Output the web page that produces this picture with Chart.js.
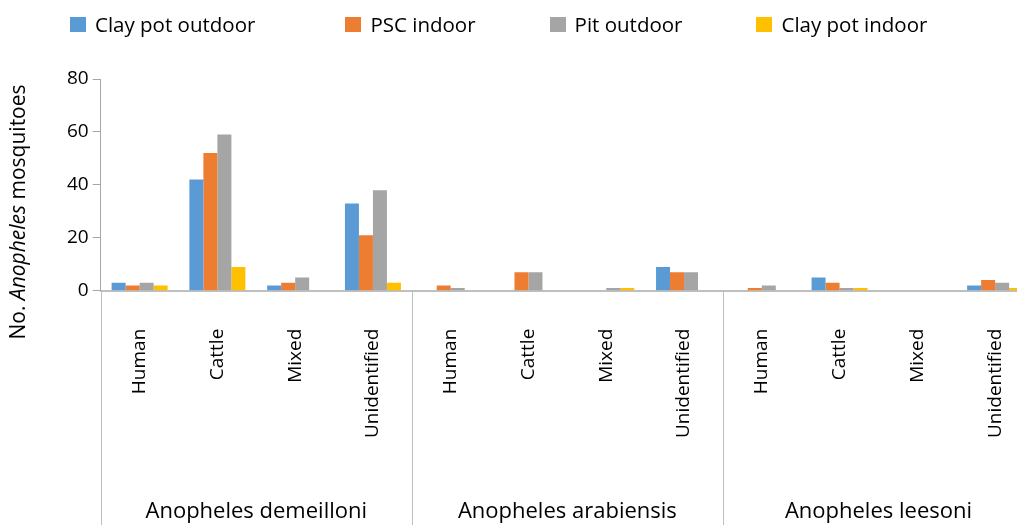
<!DOCTYPE html>
<html lang="en">
<head>
<meta charset="UTF-8">
<title>Blood meal sources</title>
<script src="https://cdn.jsdelivr.net/npm/chart.js"></script>
<style>
    html, body { margin: 0; padding: 0; background: #fff; overflow: hidden; }
    #box { position: relative; width: 1056px; height: 525px; }
    #legenda {
        position: absolute; left: 70px; top: 10px; z-index: 2;
        display: flex; gap: 74px; align-items: center;
        font-family: 'Open Sans', 'Noto Sans', sans-serif; font-size: 20.5px; color: #000;
    }
    #legenda span.item { display: flex; align-items: center; white-space: nowrap; }
    #legenda span.item:first-child { margin-right: 16px; }
    #legenda span.cor { display: inline-block; width: 16px; height: 15px; margin-right: 9px; }
</style>
</head>
<body>
<div id="box">
    <div id="legenda"></div>
    <canvas id="grafico"></canvas>
</div>

<script>
// categorias e grupos
const hosts = ['Human', 'Cattle', 'Mixed', 'Unidentified'];
const species = ['Anopheles demeilloni', 'Anopheles arabiensis', 'Anopheles leesoni'];
const labels = [...hosts, ...hosts, ...hosts];

// valores (demeilloni, arabiensis, leesoni)
const clayPotOutdoor = [3, 42, 2, 33, 0, 0, 0, 9, 0, 5, 0, 2];
const pscIndoor      = [2, 52, 3, 21, 2, 7, 0, 7, 1, 3, 0, 4];
const pitOutdoor     = [3, 59, 5, 38, 1, 7, 1, 7, 2, 1, 0, 3];
const clayPotIndoor  = [2, 9, 0, 3, 0, 0, 1, 0, 0, 1, 0, 1];

const yTicks = [0, 20, 40, 60, 80];
const fonte = "'Open Sans', 'Noto Sans', sans-serif";
const cinza = '#A6A6A6';

// linhas de separacao dos grupos, nomes das especies e titulo do eixo y
const grupos = {
    id: 'grupos',
    afterDraw(chart) {
        const ctx = chart.ctx;
        const x = chart.scales.x;
        const topo = chart.chartArea.bottom;
        ctx.save();
        ctx.strokeStyle = '#BFBFBF';
        ctx.lineWidth = 1;
        for (let g = 0; g <= species.length; g++) {
            const px = Math.round(x.getPixelForValue(g * hosts.length - 0.5)) + 0.5;
            ctx.beginPath();
            ctx.moveTo(px, topo);
            ctx.lineTo(px, chart.height);
            ctx.stroke();
        }
        ctx.fillStyle = '#000';
        ctx.font = '22px ' + fonte;
        ctx.textAlign = 'center';
        ctx.textBaseline = 'middle';
        species.forEach((nome, g) => {
            const a = x.getPixelForValue(g * hosts.length - 0.5);
            const b = x.getPixelForValue((g + 1) * hosts.length - 0.5);
            ctx.fillText(nome, (a + b) / 2, 512);
        });

        // titulo do eixo y com "Anopheles" em italico
        const partes = [['No. ', 'normal'], ['Anopheles', 'italic'], [' mosquitoes', 'normal']];
        let total = 0;
        partes.forEach(p => {
            ctx.font = p[1] + ' 21px ' + fonte;
            total += ctx.measureText(p[0]).width;
        });
        ctx.translate(19, 212);
        ctx.rotate(-Math.PI / 2);
        ctx.textAlign = 'left';
        let pos = -total / 2;
        partes.forEach(p => {
            ctx.font = p[1] + ' 21px ' + fonte;
            ctx.fillText(p[0], pos, 0);
            pos += ctx.measureText(p[0]).width;
        });
        ctx.restore();
    }
};

const dados = {
    labels: labels,
    datasets: [
        { label: 'Clay pot outdoor', data: clayPotOutdoor, backgroundColor: '#5B9BD5' },
        { label: 'PSC indoor', data: pscIndoor, backgroundColor: '#ED7D31' },
        { label: 'Pit outdoor', data: pitOutdoor, backgroundColor: '#A5A5A5' },
        { label: 'Clay pot indoor', data: clayPotIndoor, backgroundColor: '#FFC000' }
    ]
};

const config = {
    type: 'bar',
    data: dados,
    plugins: [grupos],
    options: {
        responsive: true,
        maintainAspectRatio: false,
        animation: false,
        datasets: { bar: { categoryPercentage: 0.72, barPercentage: 1 } },
        layout: { padding: { left: 63, right: 2, top: 79, bottom: 49 } },
        plugins: {
            legend: { display: false },
            tooltip: { enabled: false }
        },
        scales: {
            x: {
                grid: { display: false, drawTicks: false },
                border: { display: true, color: '#BFBFBF', width: 2 },
                ticks: {
                    autoSkip: false,
                    minRotation: 90,
                    maxRotation: 90,
                    padding: 38,
                    color: '#000',
                    font: { family: fonte, size: 19 }
                }
            },
            y: {
                min: 0,
                max: 80,
                afterBuildTicks: (axis) => { axis.ticks = yTicks.map(v => ({ value: v })); },
                grid: { drawOnChartArea: false, drawTicks: true, tickLength: 8, color: cinza },
                border: { display: true, color: cinza, width: 1 },
                ticks: {
                    padding: 4,
                    color: '#000',
                    font: { family: fonte, size: 19 }
                }
            }
        }
    }
};

const grafico = new Chart(document.getElementById('grafico'), config);

// legenda em html montada a partir dos datasets
const legenda = document.getElementById('legenda');
grafico.data.datasets.forEach(ds => {
    const item = document.createElement('span');
    item.className = 'item';
    item.innerHTML = `<span class="cor" style="background:${ds.backgroundColor}"></span>${ds.label}`;
    legenda.appendChild(item);
});
</script>
</body>
</html>
